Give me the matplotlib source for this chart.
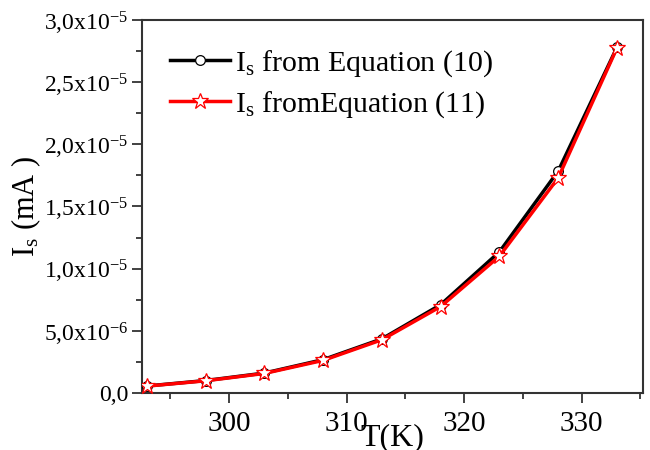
import math
import matplotlib
matplotlib.use("Agg")
import matplotlib.pyplot as plt
from matplotlib.ticker import FuncFormatter, MultipleLocator

plt.rcParams['font.family'] = ['Liberation Serif', 'DejaVu Serif']
plt.rcParams['mathtext.fontset'] = 'custom'
plt.rcParams['mathtext.rm'] = 'Liberation Serif'
plt.rcParams['mathtext.it'] = 'Liberation Serif:italic'

T = [293, 298, 303, 308, 313, 318, 323, 328, 333]
Is_eq10 = [0.56e-6, 1.00e-6, 1.60e-6, 2.68e-6, 4.35e-6, 7.10e-6, 11.35e-6, 17.85e-6, 27.80e-6]
Is_eq11 = [0.55e-6, 0.98e-6, 1.57e-6, 2.62e-6, 4.28e-6, 6.95e-6, 11.00e-6, 17.30e-6, 27.75e-6]
labels = [r'$\mathregular{I_s}$ from Equation (10)', r'$\mathregular{I_s}$ fromEquation (11)']

fig = plt.figure(figsize=(6.5, 4.5), dpi=100)
ax = fig.add_axes([0.2185, 0.1267, 0.7705, 0.829])

ax.plot(T, Is_eq10, color='black', lw=2.5, marker='o', ms=7, mfc='white', mec='black', mew=0.9,
        label=labels[0], zorder=3)
ax.plot(T, Is_eq11, color='red', lw=2.5, marker='*', ms=12, mfc='white', mec='red', mew=0.9,
        label=labels[1], zorder=4)

ax.set_xlim(292.6, 335.2)
ax.set_ylim(0, 3.0e-5)
ax.xaxis.set_major_locator(MultipleLocator(10))
ax.xaxis.set_minor_locator(MultipleLocator(5))
ax.yaxis.set_major_locator(MultipleLocator(5e-6))
ax.yaxis.set_minor_locator(MultipleLocator(2.5e-6))

def yfmt(v, pos):
    if abs(v) < 1e-12:
        return '0,0'
    e = int(math.floor(math.log10(abs(v)) + 1e-9))
    m = v / 10**e
    s = ('%.1f' % m).replace('.', '{,}')
    return r'$\mathregular{%sx10^{%d}}$' % (s, e)

ax.yaxis.set_major_formatter(FuncFormatter(yfmt))

ax.tick_params(axis='both', which='major', direction='out', length=7, width=1.3, color='#333333')
ax.tick_params(axis='both', which='minor', direction='out', length=4, width=1.3, color='#333333')
ax.tick_params(axis='x', labelsize=21, pad=6)
ax.tick_params(axis='y', labelsize=17, pad=3)
for sp in ax.spines.values():
    sp.set_linewidth(1.5)
    sp.set_color('#333333')

ax.set_xlabel('T(K)', fontsize=23, labelpad=-10)
ax.set_ylabel(r'$\mathregular{I_s}$ (mA )', fontsize=22, labelpad=1)

leg = ax.legend(loc='upper left', frameon=False, fontsize=21.5, handlelength=2.0,
                handletextpad=0.15, labelspacing=0.35, borderaxespad=0.3,
                bbox_to_anchor=(0.015, 0.98))

fig.savefig('out.png', dpi=100)
